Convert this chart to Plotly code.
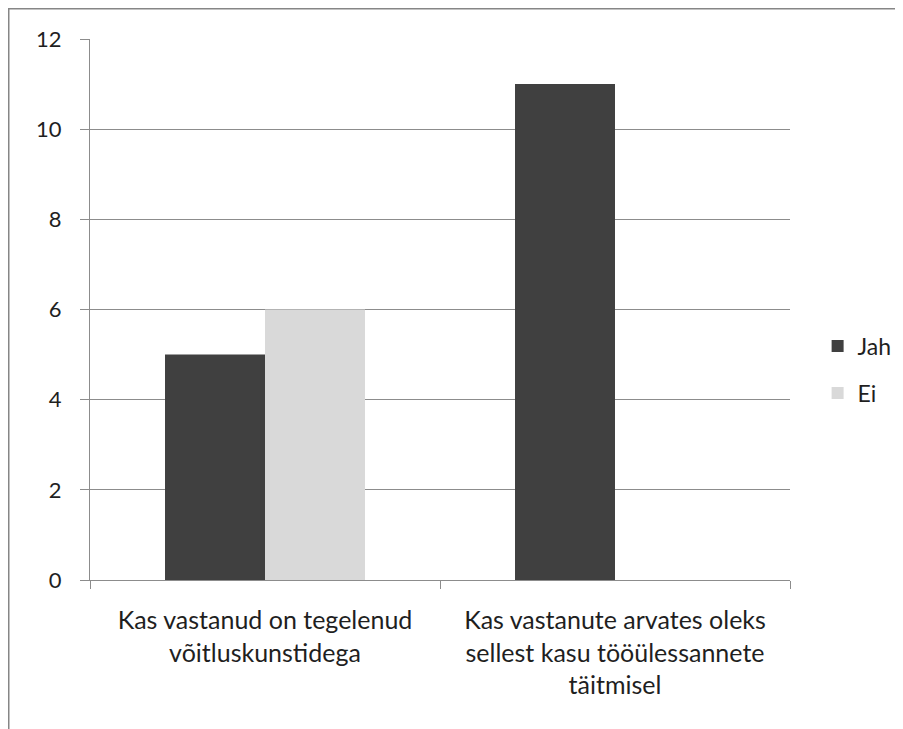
import plotly.graph_objects as go

categories = [
    "Kas vastanud on tegelenud<br>võitluskunstidega",
    "Kas vastanute arvates oleks<br>sellest kasu tööülessannete<br>täitmisel",
]
jah_values = [5, 11]
ei_values = [6, 0]
y_ticks = [0, 2, 4, 6, 8, 10, 12]

FONT = "Lato, 'Open Sans', sans-serif"
TXT = "#1f1f1f"
GRID = "#8c8c8c"

fig = go.Figure()
fig.add_trace(go.Bar(name="Jah", x=categories, y=jah_values, marker_color="#404040",
                     marker_line_width=0, legendgroup="a"))
fig.add_trace(go.Bar(name="Ei", x=categories, y=ei_values, marker_color="#d9d9d9",
                     marker_line_width=0, legendgroup="b"))

fig.update_layout(
    width=895, height=721,
    margin=dict(l=82, r=113, t=31, b=149, autoexpand=False),
    paper_bgcolor="white", plot_bgcolor="white",
    barmode="group", bargap=0.4286, bargroupgap=0,
    font=dict(family=FONT, size=22, color=TXT),
    showlegend=True,
    legend=dict(xref="container", x=0.9046, y=0.389, xanchor="left", yanchor="middle",
                font=dict(size=23, color=TXT), itemwidth=30, tracegroupgap=14,
                bgcolor="rgba(0,0,0,0)"),
)
fig.update_yaxes(range=[0, 12], tickvals=y_ticks, showgrid=True, gridcolor=GRID, gridwidth=1,
                 showline=True, linecolor=GRID, linewidth=1, ticks="outside", ticklen=9,
                 tickcolor=GRID, zeroline=False, ticklabelstandoff=14,
                 tickfont=dict(size=22, color=TXT))
fig.update_xaxes(showline=True, linecolor=GRID, linewidth=1, ticks="outside", ticklen=8,
                 tickcolor=GRID, tickson="boundaries", showgrid=False,
                 ticklabelstandoff=18, tickfont=dict(size=25, color=TXT))

fig.add_shape(type="rect", xref="paper", yref="paper",
              x0=(0.5 - 82) / 700, x1=(910 - 82) / 700,
              y0=(572 - 740) / 541, y1=(572 - 0.5) / 541,
              line=dict(color="#868686", width=2), layer="below")

fig.write_html("out.html")
